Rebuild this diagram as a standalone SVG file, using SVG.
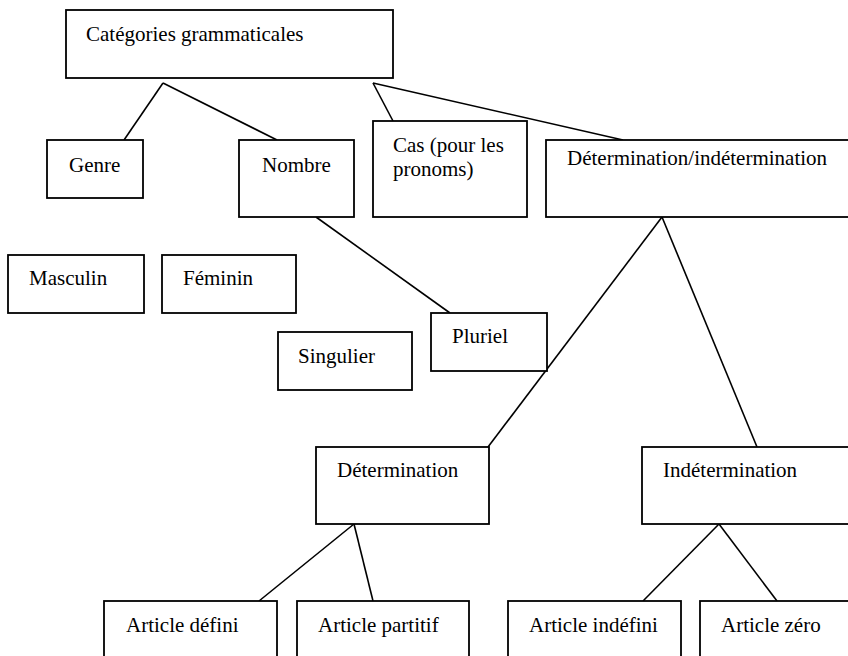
<svg xmlns="http://www.w3.org/2000/svg" width="848" height="656" viewBox="0 0 848 656">
<style>
rect.b{fill:#fff;stroke:#000;stroke-width:1.8}
text{font-family:"Liberation Serif","Times New Roman",serif;font-size:21px;fill:#000}
#connectors line{stroke:#000;stroke-width:1.6}
</style>
<rect width="848" height="656" fill="#fff"/>
<g id="connectors">
<line x1="163" y1="83" x2="124" y2="140"/>
<line x1="163" y1="83" x2="277" y2="140"/>
<line x1="373" y1="83" x2="393" y2="121"/>
<line x1="373" y1="83" x2="623" y2="140"/>
<line x1="316" y1="217" x2="450" y2="313"/>
<line x1="662" y1="217" x2="488" y2="447"/>
<line x1="662" y1="217" x2="757" y2="447"/>
<line x1="354" y1="524" x2="259" y2="601"/>
<line x1="354" y1="524" x2="373" y2="601"/>
<line x1="719" y1="524" x2="643" y2="601"/>
<line x1="719" y1="524" x2="777" y2="601"/>
</g>
<g id="categories"><rect class="b" x="66" y="10" width="327" height="68"/><text x="86" y="41">Catégories grammaticales</text></g>
<g id="genre"><rect class="b" x="47" y="140" width="96" height="58"/><text x="69" y="172">Genre</text></g>
<g id="nombre"><rect class="b" x="239" y="140" width="115" height="77"/><text x="262" y="172">Nombre</text></g>
<g id="cas"><rect class="b" x="373" y="121" width="154" height="96"/><text x="393" y="152">Cas (pour les</text><text x="393" y="176">pronoms)</text></g>
<g id="det-indet"><rect class="b" x="546" y="140" width="314" height="77"/><text x="567" y="165">Détermination/indétermination</text></g>
<g id="masculin"><rect class="b" x="8" y="255" width="136" height="58"/><text x="29" y="285">Masculin</text></g>
<g id="feminin"><rect class="b" x="162" y="255" width="134" height="58"/><text x="183" y="285">Féminin</text></g>
<g id="singulier"><rect class="b" x="278" y="332" width="134" height="58"/><text x="298" y="363">Singulier</text></g>
<g id="pluriel"><rect class="b" x="431" y="313" width="116" height="58"/><text x="452" y="343">Pluriel</text></g>
<g id="determination"><rect class="b" x="316" y="447" width="173" height="77"/><text x="337" y="477">Détermination</text></g>
<g id="indetermination"><rect class="b" x="642" y="447" width="218" height="77"/><text x="663" y="477">Indétermination</text></g>
<g id="article-defini"><rect class="b" x="104" y="601" width="173" height="70"/><text x="126" y="632">Article défini</text></g>
<g id="article-partitif"><rect class="b" x="297" y="601" width="172" height="70"/><text x="318" y="632">Article partitif</text></g>
<g id="article-indefini"><rect class="b" x="508" y="601" width="173" height="70"/><text x="529" y="632">Article indéfini</text></g>
<g id="article-zero"><rect class="b" x="700" y="601" width="170" height="70"/><text x="721" y="632">Article zéro</text></g>
</svg>
